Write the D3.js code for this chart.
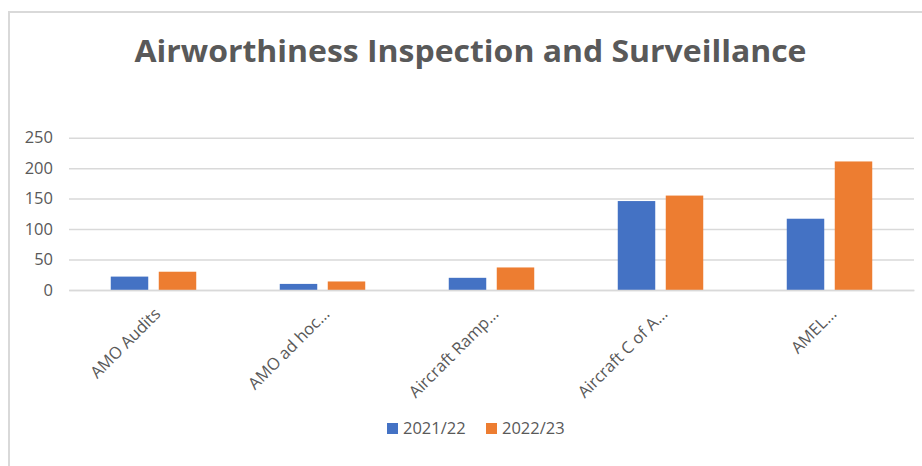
<!DOCTYPE html>
<html>
<head>
<meta charset="utf-8">
<script src="https://cdn.jsdelivr.net/npm/d3@7"></script>
<style>
  html, body { margin: 0; padding: 0; background: #fff; }
  svg { display: block; font-family: "Open Sans", sans-serif; }
</style>
</head>
<body>
<svg id="chart" width="922" height="466"></svg>
<script>
// Airworthiness inspection & surveillance counts by activity, two financial years
const categories = ["AMO Audits", "AMO ad hoc…", "Aircraft Ramp…", "Aircraft C of A…", "AMEL…"];
const seriesNames = ["2021/22", "2022/23"];
const values2021 = [22, 10, 20, 146, 117];
const values2022 = [30, 14, 37, 155, 211];
const yTicks = [0, 50, 100, 150, 200, 250];
const colors = ["#4472C4", "#ED7D31"];

const svg = d3.select("#chart");
const W = 922, H = 466;
const plot = { left: 69, right: 914, top: 137.7, bottom: 290 };
const textColor = "#595959";
const gridColor = "#d9d9d9";

// Chart area border (left and top edges fall inside the frame)
svg.append("rect")
  .attr("x", 9).attr("y", 12)
  .attr("width", W + 20).attr("height", H + 20)
  .attr("fill", "#fff")
  .attr("stroke", gridColor).attr("stroke-width", 2);

// Title
svg.append("text")
  .attr("x", 470.5).attr("y", 62)
  .attr("text-anchor", "middle")
  .attr("fill", textColor)
  .attr("font-size", 30)
  .attr("font-weight", 700)
  .attr("textLength", 672)
  .attr("lengthAdjust", "spacingAndGlyphs")
  .text("Airworthiness Inspection and Surveillance");

const x = d3.scaleBand().domain(categories).range([plot.left, plot.right]).padding(0);
const xs = d3.scaleBand().domain(seriesNames).range([0, x.bandwidth()])
  .paddingInner(0.219).paddingOuter(0.87);
const y = d3.scaleLinear().domain([0, 250]).range([plot.bottom, plot.top]);

// Horizontal gridlines + y tick labels
const yAxis = d3.axisLeft(y).tickValues(yTicks).tickSize(-(plot.right - plot.left)).tickPadding(16);
const gy = svg.append("g").attr("transform", `translate(${plot.left},0)`).call(yAxis);
gy.select(".domain").remove();
gy.selectAll(".tick line").attr("stroke", gridColor).attr("stroke-width", 1.5);
gy.selectAll(".tick text")
  .attr("fill", textColor).attr("font-size", 16.5)
  .attr("font-family", "Open Sans, sans-serif");

// Bars
const rows = categories.map((c, i) => ({ cat: c, vals: [values2021[i], values2022[i]] }));
const groups = svg.append("g").selectAll("g").data(rows).join("g")
  .attr("transform", d => `translate(${x(d.cat)},0)`);
groups.selectAll("rect")
  .data(d => d.vals.map((v, k) => ({ name: seriesNames[k], v, k })))
  .join("rect")
  .attr("x", d => xs(d.name))
  .attr("width", xs.bandwidth())
  .attr("y", d => y(d.v))
  .attr("height", d => y(0) - y(d.v))
  .attr("fill", d => colors[d.k]);

// X axis: rotated category labels
const xAxis = d3.axisBottom(x).tickSize(0).tickPadding(0);
const gx = svg.append("g").attr("transform", `translate(0,${plot.bottom})`).call(xAxis);
gx.select(".domain").attr("stroke", gridColor).attr("stroke-width", 1.5);
gx.selectAll(".tick text")
  .attr("fill", textColor).attr("font-size", 16.5)
  .attr("font-family", "Open Sans, sans-serif")
  .attr("text-anchor", "end")
  .attr("dy", null)
  .attr("transform", "translate(8,25) rotate(-45)");

// Legend
const legend = svg.append("g").attr("transform", "translate(387,0)");
const legendX = [0, 99];
seriesNames.forEach((name, k) => {
  const g = legend.append("g").attr("transform", `translate(${legendX[k]},0)`);
  g.append("rect").attr("x", 0).attr("y", 423).attr("width", 11).attr("height", 11).attr("fill", colors[k]);
  g.append("text").attr("x", 16).attr("y", 433.5)
    .attr("fill", textColor).attr("font-size", 16.5)
    .text(name);
});
</script>
</body>
</html>
